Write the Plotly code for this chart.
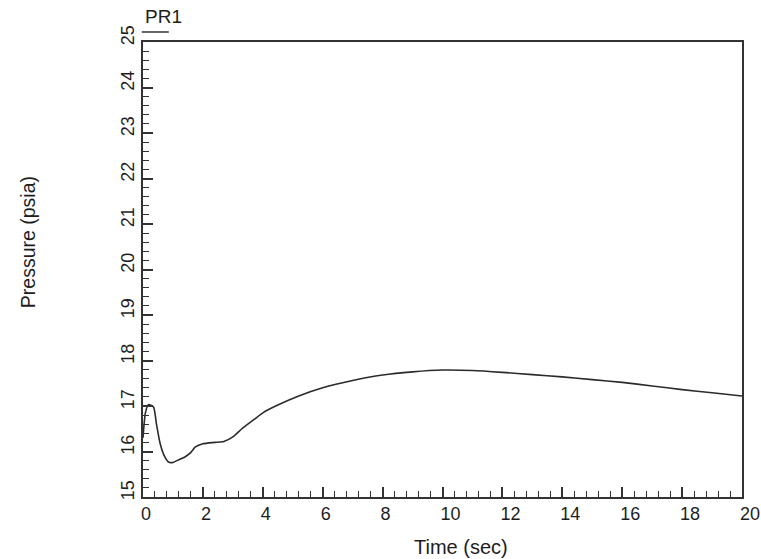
import plotly.graph_objects as go

time_sec = [0.0, 0.08, 0.18, 0.35, 0.45, 0.57, 0.7, 0.85, 1.0, 1.2, 1.4, 1.6, 1.75, 2.0, 2.4, 2.7, 3.0, 3.3, 3.7, 4.0, 4.5, 5.2, 6.0, 7.0, 8.0, 9.0, 10.0, 11.0, 12.0, 13.0, 14.0, 15.0, 16.0, 17.0, 18.0, 19.0, 20.0]
pressure_psia = [16.3, 16.85, 17.03, 16.98, 16.6, 16.18, 15.92, 15.77, 15.76, 15.82, 15.88, 15.98, 16.1, 16.17, 16.2, 16.22, 16.32, 16.5, 16.7, 16.85, 17.02, 17.22, 17.4, 17.56, 17.68, 17.75, 17.79, 17.78, 17.74, 17.69, 17.64, 17.58, 17.52, 17.44, 17.36, 17.29, 17.22]

x_ticks = [0, 2, 4, 6, 8, 10, 12, 14, 16, 18, 20]
y_ticks = [15, 16, 17, 18, 19, 20, 21, 22, 23, 24, 25]

series_name = "PR1"
x_title = "Time (sec)"
y_title = "Pressure (psia)"

FONT = "Liberation Sans, Arial, sans-serif"
AX = "#333333"
TXT = "#1e1e1e"

fig = go.Figure()
fig.add_trace(go.Scatter(
    x=time_sec, y=pressure_psia, mode="lines", name=series_name,
    line=dict(color="#2b2b2b", width=1.6, shape="spline", smoothing=0.6),
    showlegend=False,
))

axis_common = dict(
    showline=True, linecolor=AX, linewidth=1.5, mirror=True,
    ticks="inside", ticklen=10, tickwidth=1.5, tickcolor=AX,
    showgrid=False, zeroline=False, automargin=False,
    tickfont=dict(family=FONT, size=18, color=TXT),
)

# labels left-aligned at their tick: pad single digits to two-digit width
x_text = [str(v) if v >= 10 else str(v) + "\u2007" for v in x_ticks]
fig.update_xaxes(
    range=[0, 20], tickmode="array", tickvals=x_ticks, ticktext=x_text,
    ticklabelshift=8,
    minor=dict(dtick=0.4, tick0=0, ticks="inside", ticklen=6, tickwidth=1.3, tickcolor=AX, showgrid=False),
    **axis_common,
)
fig.update_yaxes(
    range=[15, 25], tickmode="array", tickvals=y_ticks, ticktext=[str(v) for v in y_ticks],
    tickangle=-90, ticklabelshift=-4,
    minor=dict(dtick=0.2, tick0=15, ticks="inside", ticklen=6, tickwidth=1.3, tickcolor=AX, showgrid=False),
    **axis_common,
)

fig.add_annotation(text=x_title, xref="paper", yref="paper", x=0.531, y=-0.11,
                   xanchor="center", yanchor="middle", showarrow=False,
                   font=dict(family=FONT, size=20, color=TXT))
fig.add_annotation(text=y_title, xref="paper", yref="paper", x=-0.192, y=0.56,
                   xanchor="center", yanchor="middle", textangle=-90, showarrow=False,
                   font=dict(family=FONT, size=19.5, color=TXT))
# legend label with sample line
fig.add_annotation(text=series_name, xref="paper", yref="paper", x=0.0, y=1.055,
                   xanchor="left", yanchor="middle", showarrow=False,
                   font=dict(family=FONT, size=19, color=TXT))
fig.add_shape(type="line", xref="paper", yref="paper", x0=-0.002, x1=0.043, y0=1.022, y1=1.022,
              line=dict(color=AX, width=1.5))

fig.update_layout(
    width=761, height=559,
    margin=dict(l=143, r=19, t=42, b=62, autoexpand=False),
    paper_bgcolor="white", plot_bgcolor="white",
)

fig.write_html("out.html")
